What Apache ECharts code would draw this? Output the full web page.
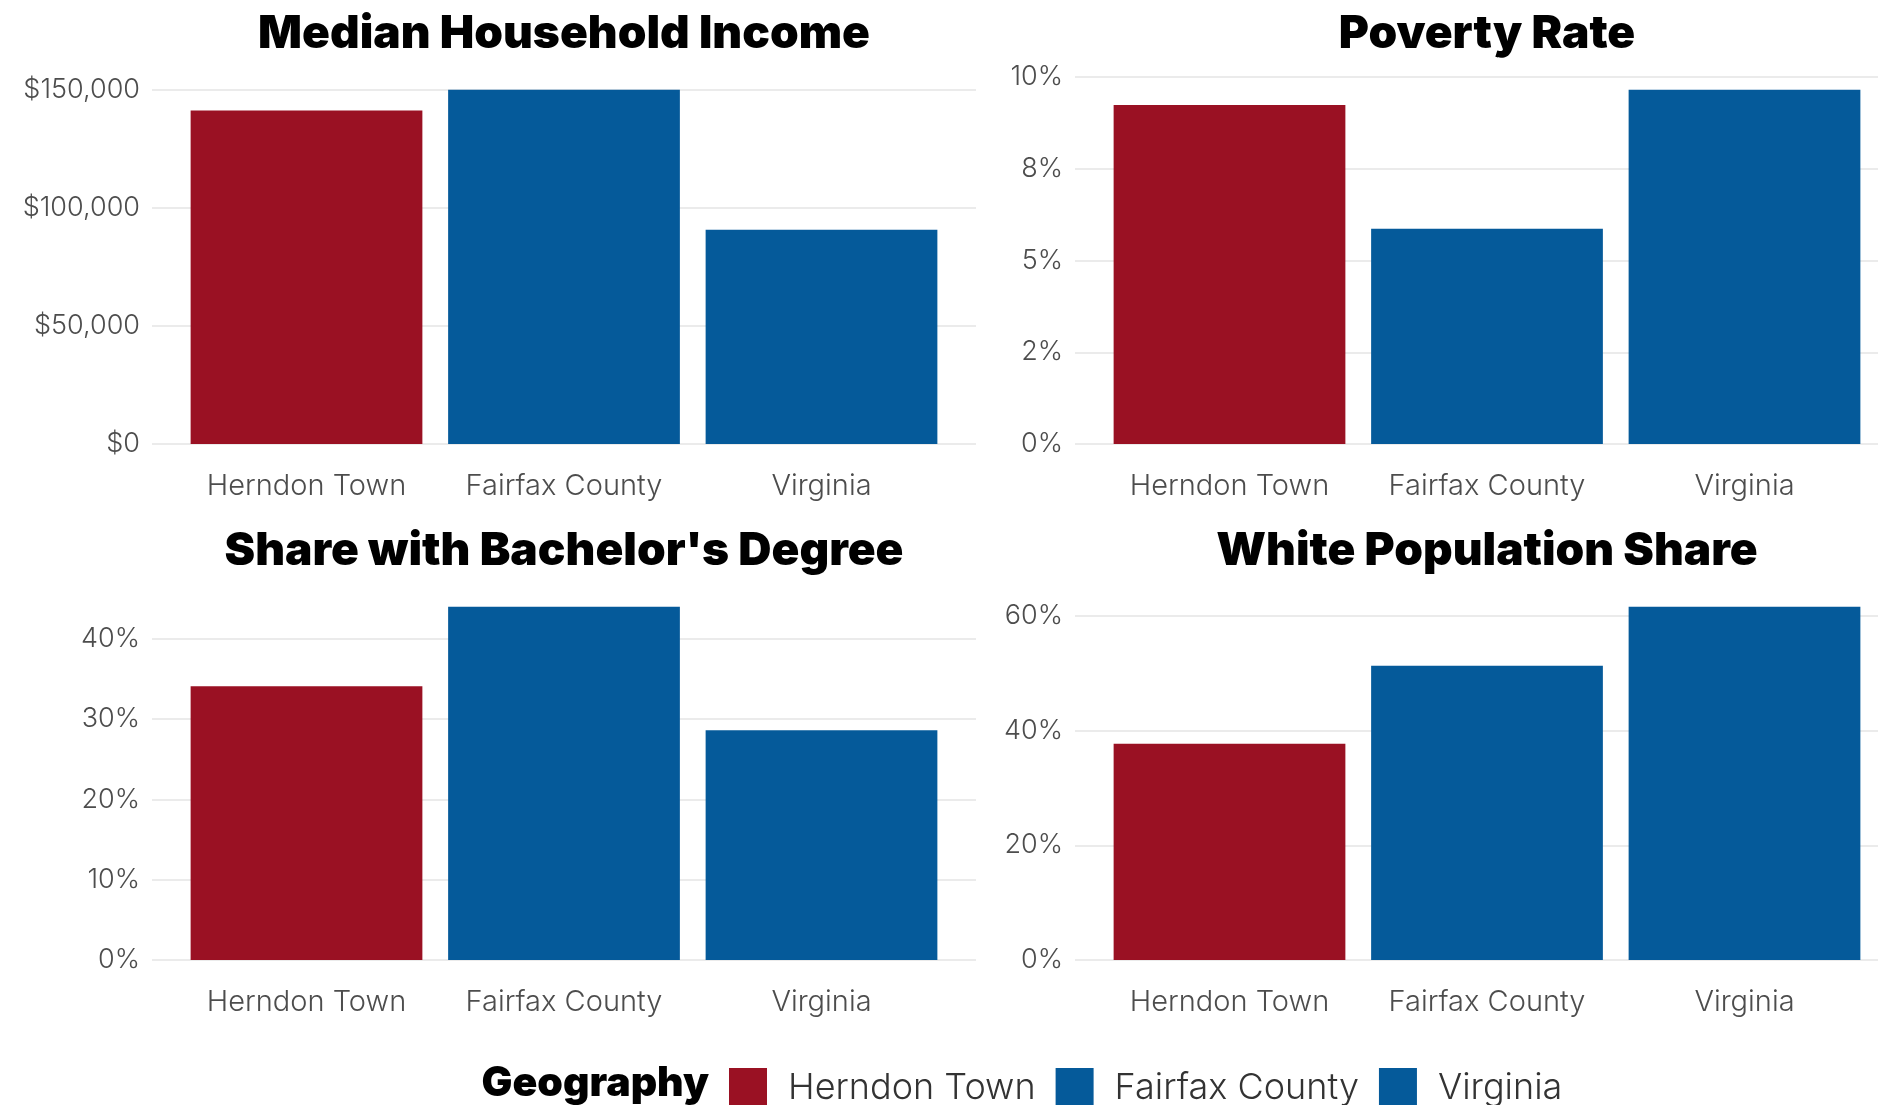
<!DOCTYPE html>
<html>
<head>
<meta charset="utf-8">
<script src="https://cdn.jsdelivr.net/npm/echarts@6/dist/echarts.min.js"></script>
<style>
  html, body { margin: 0; padding: 0; background: #ffffff; }
  #chart { width: 1878px; height: 1105px; }
</style>
</head>
<body>
<div id="chart"></div>
<script>
// ---- data ----
const categories = ['Herndon Town', 'Fairfax County', 'Virginia'];
const geoColors = ['#9A1123', '#055A9A', '#055A9A'];

const incomeValues = [141300, 150100, 90800];
const povertyValues = [9.24, 5.87, 9.66];
const bachelorValues = [34.1, 44.0, 28.6];
const whiteValues = [37.7, 51.3, 61.6];

const incomeTicks = [0, 50000, 100000, 150000];
const incomeTickLabels = ['$0', '$50,000', '$100,000', '$150,000'];
const povertyTicks = [0, 2.5, 5, 7.5, 10];
const povertyTickLabels = ['0%', '2%', '5%', '8%', '10%'];
const bachelorTicks = [0, 10, 20, 30, 40];
const bachelorTickLabels = ['0%', '10%', '20%', '30%', '40%'];
const whiteTicks = [0, 20, 40, 60];
const whiteTickLabels = ['0%', '20%', '40%', '60%'];

const panelTitles = ['Median Household Income', 'Poverty Rate', "Share with Bachelor's Degree", 'White Population Share'];
const legendTitle = 'Geography';

// ---- layout ----
const panels = [
  { title: panelTitles[0], values: incomeValues, ticks: incomeTicks, labels: incomeTickLabels, left: 152, top: 72, height: 372, titleY: 34 },
  { title: panelTitles[1], values: povertyValues, ticks: povertyTicks, labels: povertyTickLabels, left: 1075, top: 72, height: 372, titleY: 34 },
  { title: panelTitles[2], values: bachelorValues, ticks: bachelorTicks, labels: bachelorTickLabels, left: 152, top: 589, height: 371, titleY: 551 },
  { title: panelTitles[3], values: whiteValues, ticks: whiteTicks, labels: whiteTickLabels, left: 1075, top: 589, height: 371, titleY: 551 }
];
const panelWidth = 824;           // continuous scale width incl. 0.6 unit expansion each side
const unit = panelWidth / 3.2;
const labelFont = 'Inter';
const labelColor = '#4d4d4d';
const gridColor = '#ebebeb';

const grid = [], xAxis = [], yAxis = [], series = [], graphics = [];

panels.forEach((p, pi) => {
  const maxV = Math.max.apply(null, p.values) * 1.05;
  const interval = p.ticks[1] - p.ticks[0];
  const lineColors = p.ticks.map(() => gridColor).concat(['rgba(0,0,0,0)']);
  const fmt = (v) => {
    for (let i = 0; i < p.ticks.length; i++) {
      if (Math.abs(p.ticks[i] - v) < 1e-9 * Math.max(1, Math.abs(v))) return p.labels[i];
    }
    return '';
  };
  grid.push({ left: p.left, top: p.top, width: panelWidth, height: p.height, containLabel: false });
  grid.push({ left: p.left + unit * 0.1, top: p.top, width: unit * 3, height: p.height, containLabel: false });

  xAxis.push({ gridIndex: 2 * pi, type: 'value', min: 0, max: 1, show: false });
  xAxis.push({
    gridIndex: 2 * pi + 1, type: 'category', data: categories,
    axisLine: { show: false }, axisTick: { show: false },
    axisLabel: { interval: 0, hideOverlap: false, margin: 28, fontFamily: labelFont, fontSize: 29, fontWeight: 300, color: labelColor }
  });
  yAxis.push({
    gridIndex: 2 * pi, type: 'value', min: 0, max: maxV, interval: interval,
    axisLine: { show: false }, axisTick: { show: false },
    axisLabel: { formatter: fmt, showMaxLabel: false, margin: 12, fontFamily: labelFont, fontSize: 27, fontWeight: 300, color: labelColor },
    splitLine: { show: true, lineStyle: { color: lineColors, width: 2 } }
  });
  yAxis.push({ gridIndex: 2 * pi + 1, type: 'value', min: 0, max: maxV, show: false, splitLine: { show: false } });

  categories.forEach((c, gi) => {
    series.push({
      name: c, type: 'bar',
      xAxisIndex: 2 * pi + 1, yAxisIndex: 2 * pi + 1,
      data: p.values.map((v, i) => (i === gi ? v : '-')),
      barGap: '-100%', barCategoryGap: '10%',
      itemStyle: { color: geoColors[gi] },
      emphasis: { disabled: true },
      animation: false
    });
  });

  graphics.push({
    type: 'text', x: p.left + panelWidth / 2, y: p.titleY,
    style: { text: p.title, font: '900 46px Inter', fill: '#000', align: 'center', verticalAlign: 'middle', textAlign: 'center', textVerticalAlign: 'middle' }
  });
});

graphics.push({
  type: 'text', x: 709, y: 1084,
  style: { text: legendTitle, font: '900 41px Inter', fill: '#000', align: 'right', verticalAlign: 'middle', textAlign: 'right', textVerticalAlign: 'middle' }
});

const chart = echarts.init(document.getElementById('chart'), null, { renderer: 'canvas' });
chart.setOption({
  backgroundColor: '#ffffff',
  animation: false,
  grid: grid,
  xAxis: xAxis,
  yAxis: yAxis,
  series: series,
  legend: {
    data: categories.map((c, i) => ({ name: c, icon: 'rect', itemStyle: { color: geoColors[i] } })),
    left: 724, top: 1063,
    itemWidth: 38, itemHeight: 40, itemGap: 20,
    selectedMode: false,
    textStyle: { fontFamily: labelFont, fontSize: 36, fontWeight: 300, color: '#333', padding: [0, 0, 0, 16] }
  },
  graphic: graphics
});
</script>
</body>
</html>
